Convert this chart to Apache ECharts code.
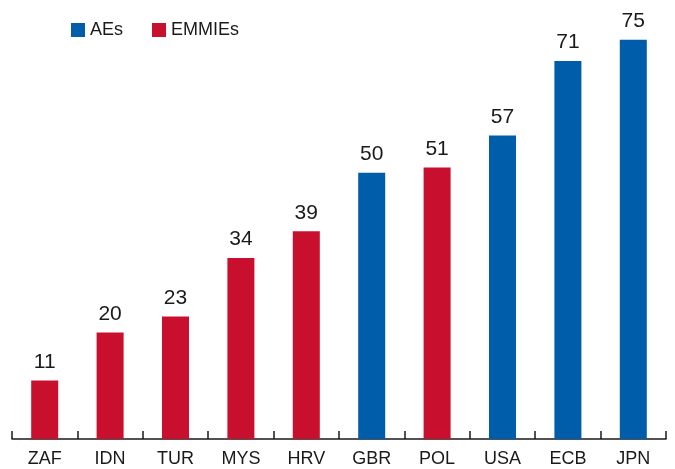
<!DOCTYPE html>
<html>
<head>
<meta charset="utf-8">
<script src="https://cdn.jsdelivr.net/npm/echarts@6/dist/echarts.min.js"></script>
<style>
  html, body { margin: 0; padding: 0; background: #fff; }
  #chart { width: 675px; height: 469px; }
</style>
</head>
<body>
<div id="chart"></div>
<script>
var categories = ['ZAF', 'IDN', 'TUR', 'MYS', 'HRV', 'GBR', 'POL', 'USA', 'ECB', 'JPN'];
var values = [11, 20, 23, 34, 39, 50, 51, 57, 71, 75];
var groups = ['EMMIEs', 'EMMIEs', 'EMMIEs', 'EMMIEs', 'EMMIEs', 'AEs', 'EMMIEs', 'AEs', 'AEs', 'AEs'];

var font = '"Liberation Sans", sans-serif';

// one series per group, '-' where the bar belongs to the other group
function pick(name) {
  return values.map(function (v, i) { return groups[i] === name ? v : '-'; });
}

function makeSeries(name, color) {
  return {
    name: name,
    type: 'bar',
    stack: 'all',
    barWidth: 27,
    data: pick(name),
    itemStyle: { color: color },
    label: {
      show: true,
      position: 'top',
      distance: 8,
      color: '#1a1a1a',
      fontSize: 21,
      fontFamily: font
    }
  };
}

var chart = echarts.init(document.getElementById('chart'));
chart.setOption({
  animation: false,
  legend: {
    left: 66,
    top: 16,
    itemWidth: 14,
    itemHeight: 14,
    itemGap: 29,
    icon: 'rect',
    textStyle: { fontSize: 18, fontFamily: font, color: '#1a1a1a' },
    data: ['AEs', 'EMMIEs']
  },
  grid: { left: 12, right: 9, top: 13, bottom: 30, containLabel: false },
  xAxis: {
    type: 'category',
    data: categories,
    axisLine: { lineStyle: { color: '#1a1a1a', width: 1.5 } },
    axisTick: { show: true, inside: true, length: 8, lineStyle: { color: '#1a1a1a', width: 1.5 } },
    axisLabel: { fontSize: 18, fontFamily: font, color: '#1a1a1a', margin: 11 }
  },
  yAxis: {
    type: 'value',
    min: 0,
    max: 80,
    show: false
  },
  series: [
    makeSeries('AEs', '#005DAA'),
    makeSeries('EMMIEs', '#C8102E')
  ]
});
</script>
</body>
</html>
